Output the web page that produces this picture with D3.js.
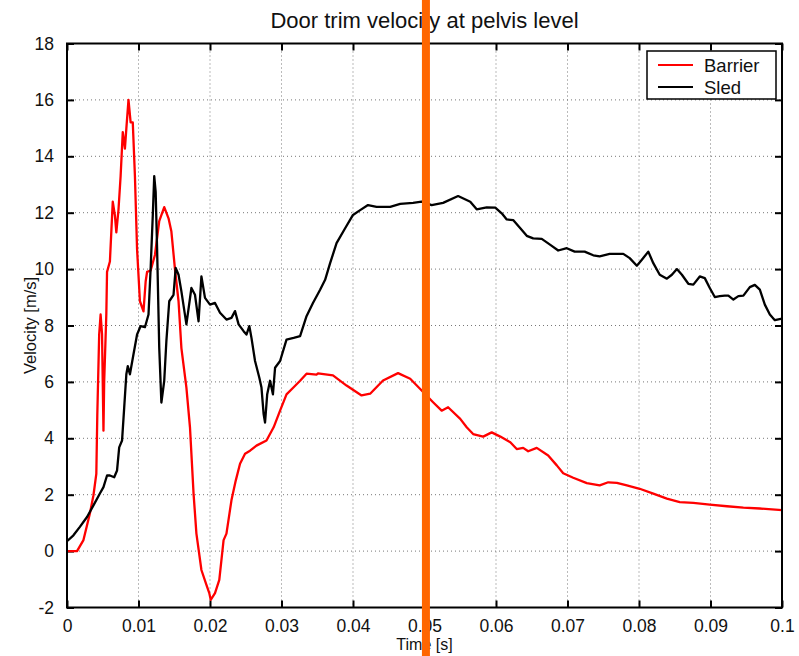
<!DOCTYPE html>
<html>
<head>
<meta charset="utf-8">
<script src="https://cdn.jsdelivr.net/npm/d3@7"></script>
<style>
  body { margin: 0; background: #fff; }
  svg { font-family: "Liberation Sans", Arial, sans-serif; }
</style>
</head>
<body>
<svg width="799" height="656"></svg>
<script>
// -------------------- DATA --------------------
const barrierT = [0, 0.0014, 0.0023, 0.0032, 0.0037, 0.0041, 0.00424, 0.0045, 0.0047, 0.0049, 0.0051, 0.0052, 0.0055, 0.0056, 0.006,
  0.0064, 0.0067, 0.0069, 0.0072, 0.0075, 0.0078, 0.0081, 0.0083, 0.0086, 0.0089, 0.0092, 0.0095, 0.0098, 0.0102, 0.0107,
  0.011, 0.0112, 0.0117, 0.0123, 0.0129, 0.0136, 0.0142, 0.0146, 0.0151, 0.0156, 0.016, 0.0167, 0.0172, 0.0177, 0.0181,
  0.0188, 0.0195, 0.0199, 0.0201, 0.0207, 0.0213, 0.0219, 0.0223, 0.023, 0.0236, 0.0242, 0.0249, 0.0256, 0.0265, 0.0279,
  0.0289, 0.0298, 0.0307, 0.0317, 0.0326, 0.0335, 0.0349, 0.0351, 0.0372, 0.0391, 0.0412, 0.0424, 0.0442, 0.0463, 0.048,
  0.0494, 0.0512, 0.0524, 0.0533, 0.055, 0.0559, 0.0568, 0.0582, 0.0594, 0.0606, 0.062, 0.0629, 0.0638, 0.0645, 0.0657,
  0.0673, 0.0685, 0.0694, 0.0708, 0.0727, 0.0745, 0.0757, 0.0769, 0.0783, 0.0801, 0.082, 0.0839, 0.0857, 0.0876, 0.0899,
  0.0923, 0.0946, 0.0969, 0.1];
const barrierV = [0, 0, 0.39, 1.33, 1.98, 2.74, 4.86, 7.68, 8.39, 7.7, 4.27, 6.0, 8.4, 9.9, 10.27,
  12.39, 11.9, 11.3, 12.1, 13.3, 14.86, 14.27, 14.98, 16.0, 15.2, 15.2, 13.3, 10.7, 8.86, 8.5,
  9.56, 9.9, 9.95, 10.5, 11.7, 12.2, 11.8, 11.33, 10.0, 8.86, 7.2, 5.8, 4.39, 2.04, 0.62,
  -0.67, -1.2, -1.49, -1.73, -1.49, -1.02, 0.39, 0.62, 1.8, 2.5, 3.1, 3.45, 3.56, 3.74, 3.92,
  4.39, 4.98, 5.56, 5.81, 6.04, 6.29, 6.26, 6.3, 6.23, 5.87, 5.52, 5.58, 6.05, 6.31, 6.11,
  5.75, 5.28, 4.98, 5.1, 4.69, 4.39, 4.15, 4.06, 4.21, 4.06, 3.86, 3.62, 3.66, 3.54, 3.66,
  3.39, 3.04, 2.76, 2.6, 2.41, 2.33, 2.44, 2.42, 2.33, 2.21, 2.04, 1.86, 1.74, 1.71, 1.65,
  1.59, 1.54, 1.51, 1.45];

const sledT = [0, 0.0009, 0.0018, 0.0028, 0.0037, 0.0046, 0.0051, 0.0056, 0.006, 0.0066, 0.007, 0.0073, 0.0077, 0.008, 0.0083,
  0.0085, 0.0088, 0.0093, 0.0098, 0.0103, 0.0109, 0.0114, 0.0117, 0.012, 0.0122, 0.0124, 0.0126, 0.0129, 0.0132, 0.0136,
  0.0139, 0.0143, 0.0149, 0.0152, 0.0156, 0.016, 0.0167, 0.0174, 0.0179, 0.0184, 0.0188, 0.0193, 0.02, 0.0207, 0.0214,
  0.0223, 0.023, 0.0235, 0.024, 0.0247, 0.0251, 0.0255, 0.0258, 0.0263, 0.0269, 0.0272, 0.0275, 0.0277, 0.028, 0.0284,
  0.0288, 0.0291, 0.0298, 0.0307, 0.0317, 0.0326, 0.0335, 0.0344, 0.0354, 0.0361, 0.0368, 0.0377, 0.0389, 0.04, 0.041,
  0.0421, 0.0433, 0.0452, 0.0466, 0.0484, 0.0496, 0.051, 0.0526, 0.0547, 0.0564, 0.0573, 0.0587, 0.0599, 0.0608, 0.0615,
  0.0624, 0.0634, 0.0643, 0.0652, 0.0664, 0.0676, 0.0687, 0.0699, 0.071, 0.0724, 0.0736, 0.0745, 0.0759, 0.0778, 0.0787,
  0.0797, 0.0804, 0.0813, 0.082, 0.0829, 0.0839, 0.0846, 0.0853, 0.086, 0.0869, 0.0876, 0.0885, 0.0892, 0.0899, 0.0906,
  0.0913, 0.092, 0.0925, 0.0932, 0.0939, 0.0946, 0.0955, 0.0962, 0.0969, 0.0976, 0.0983, 0.099, 0.1];
const sledV = [0.35, 0.56, 0.86, 1.21, 1.62, 2.04, 2.27, 2.68, 2.68, 2.62, 2.86, 3.68, 3.92, 5.09, 6.27,
  6.56, 6.27, 6.98, 7.68, 7.98, 7.94, 8.39, 10.04, 11.92, 13.3, 12.74, 10.74, 7.21, 5.27, 6.04,
  7.45, 8.86, 9.09, 10.04, 9.8, 9.21, 8.04, 9.33, 9.09, 8.15, 9.74, 8.98, 8.74, 8.8, 8.45,
  8.21, 8.27, 8.51, 8.04, 7.8, 7.68, 7.98, 7.56, 6.74, 6.15, 5.8, 4.86, 4.56, 5.56, 6.04,
  5.56, 6.5, 6.74, 7.5, 7.56, 7.62, 8.33, 8.8, 9.27, 9.62, 10.21, 10.92, 11.45, 11.92, 12.09,
  12.27, 12.21, 12.21, 12.31, 12.35, 12.39, 12.27, 12.35, 12.59, 12.39, 12.12, 12.19, 12.18, 11.98, 11.76,
  11.74, 11.45, 11.18, 11.09, 11.07, 10.86, 10.66, 10.74, 10.62, 10.62, 10.49, 10.45, 10.54, 10.54, 10.39,
  10.12, 10.33, 10.62, 10.21, 9.8, 9.66, 9.8, 10.0, 9.8, 9.48, 9.45, 9.74, 9.68, 9.33, 9.01,
  9.04, 9.06, 9.06, 8.92, 9.04, 9.06, 9.36, 9.44, 9.27, 8.74, 8.39, 8.19, 8.24];

const xTicks = [0, 0.01, 0.02, 0.03, 0.04, 0.05, 0.06, 0.07, 0.08, 0.09, 0.1];
const xTickLabels = ["0", "0.01", "0.02", "0.03", "0.04", "0.05", "0.06", "0.07", "0.08", "0.09", "0.1"];
const yTicks = [-2, 0, 2, 4, 6, 8, 10, 12, 14, 16, 18];
const seriesNames = ["Barrier", "Sled"];
const seriesColors = ["#ff0000", "#000000"];
const markerTime = 0.0502;

// -------------------- SCALES --------------------
const svg = d3.select("svg");
const mLeft = 67, mRight = 782, mTop = 43.5, mBottom = 607.5;

const x = d3.scaleLinear().domain([0, 0.1]).range([mLeft, mRight]);
const y = d3.scaleLinear().domain([-2, 18]).range([mBottom, mTop]);

// -------------------- GRID --------------------
const grid = svg.append("g");
grid.selectAll("line.gx")
  .data(xTicks.slice(1, -1))
  .enter().append("line")
  .attr("x1", d => x(d)).attr("x2", d => x(d))
  .attr("y1", mTop).attr("y2", mBottom)
  .attr("stroke", "#777").attr("stroke-width", 1)
  .attr("stroke-dasharray", "1,3");
grid.selectAll("line.gy")
  .data(yTicks.slice(1, -1))
  .enter().append("line")
  .attr("x1", mLeft).attr("x2", mRight)
  .attr("y1", d => y(d)).attr("y2", d => y(d))
  .attr("stroke", "#777").attr("stroke-width", 1)
  .attr("stroke-dasharray", "1,3");

// -------------------- AXES --------------------
const tickLen = 7;
const axB = svg.append("g").attr("transform", `translate(0,${mBottom})`)
  .call(d3.axisBottom(x).tickValues(xTicks).tickSize(-tickLen).tickPadding(12)
    .tickFormat((d, i) => xTickLabels[i]));
const axT = svg.append("g").attr("transform", `translate(0,${mTop})`)
  .call(d3.axisTop(x).tickValues(xTicks).tickSize(-tickLen).tickFormat(""));
const axL = svg.append("g").attr("transform", `translate(${mLeft},0)`)
  .call(d3.axisLeft(y).tickValues(yTicks).tickSize(-tickLen).tickPadding(13)
    .tickFormat(d => String(d)));
const axR = svg.append("g").attr("transform", `translate(${mRight},0)`)
  .call(d3.axisRight(y).tickValues(yTicks).tickSize(-tickLen).tickFormat(""));

[axB, axT, axL, axR].forEach(a => {
  a.select(".domain").remove();
  a.selectAll(".tick line").attr("stroke", "#000").attr("stroke-width", 2);
  a.selectAll(".tick text").attr("fill", "#111").style("font-size", "17.5px");
});

// -------------------- CURVES --------------------
const line = d3.line().x(d => x(d[0])).y(d => y(d[1]));
const series = [d3.zip(barrierT, barrierV), d3.zip(sledT, sledV)];

svg.append("g").selectAll("path")
  .data(series)
  .enter().append("path")
  .attr("d", line)
  .attr("fill", "none")
  .attr("stroke", (d, i) => seriesColors[i])
  .attr("stroke-width", 2.3)
  .attr("stroke-linejoin", "round");

// frame
svg.append("rect")
  .attr("x", mLeft).attr("y", mTop)
  .attr("width", mRight - mLeft).attr("height", mBottom - mTop)
  .attr("fill", "none").attr("stroke", "#000").attr("stroke-width", 2);

// -------------------- LEGEND --------------------
const legend = svg.append("g").attr("transform", "translate(647,51)");
legend.append("rect")
  .attr("width", 129).attr("height", 48)
  .attr("fill", "#fff").attr("stroke", "#000").attr("stroke-width", 1.5);
seriesNames.forEach((name, i) => {
  legend.append("line")
    .attr("x1", 11).attr("x2", 46)
    .attr("y1", 14 + i * 22).attr("y2", 14 + i * 22)
    .attr("stroke", seriesColors[i]).attr("stroke-width", 2);
  legend.append("text")
    .attr("x", 57).attr("y", 20.5 + i * 22)
    .style("font-size", "18.5px").attr("fill", "#111")
    .text(name);
});

// -------------------- LABELS --------------------
svg.append("text")
  .attr("x", (mLeft + mRight) / 2).attr("y", 28)
  .attr("text-anchor", "middle")
  .style("font-size", "22px").attr("fill", "#111")
  .text("Door trim velocity at pelvis level");

svg.append("text")
  .attr("x", (mLeft + mRight) / 2).attr("y", 650)
  .attr("text-anchor", "middle")
  .style("font-size", "16px").attr("fill", "#111")
  .text("Time [s]");

svg.append("text")
  .attr("transform", `translate(36,${(mTop + mBottom) / 2}) rotate(-90)`)
  .attr("text-anchor", "middle")
  .style("font-size", "16.5px").attr("fill", "#111")
  .text("Velocity [m/s]");

// -------------------- MARKER --------------------
svg.append("line")
  .attr("x1", x(markerTime)).attr("x2", x(markerTime))
  .attr("y1", 0).attr("y2", 656)
  .attr("stroke", "#ff6600").attr("stroke-width", 8);
</script>
</body>
</html>
